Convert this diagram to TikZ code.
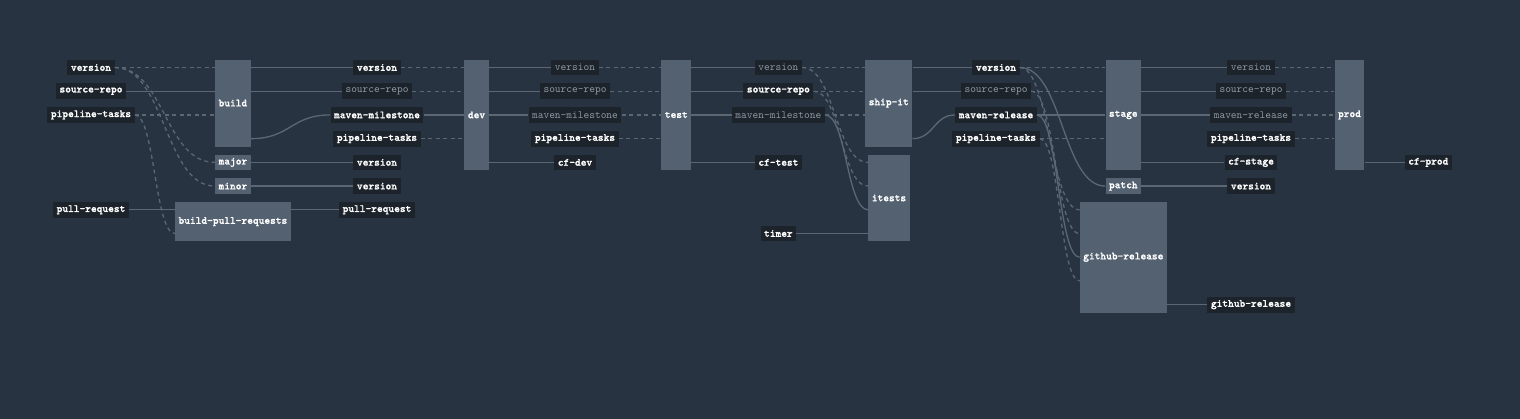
\documentclass[tikz,border=0pt]{standalone}
\usepackage{fontspec}
\usetikzlibrary{calc}

\definecolor{pagebg}{HTML}{273341}
\definecolor{jobfill}{HTML}{536171}
\definecolor{resfill}{HTML}{1C232B}
\definecolor{wirecol}{HTML}{5B6873}
\definecolor{dimtext}{HTML}{8F9AA5}

\newfontfamily\lblfam{lmmonolt10-bold.otf}[FakeBold=1.2]
\newcommand{\lblfont}{\lblfam\fontsize{10.9}{12}\selectfont}
\newcommand{\dimfont}{\ttfamily\fontsize{10.9}{12}\selectfont}

\tikzset{
  job/.style={fill=jobfill, text=white, font=\lblfont, inner xsep=3.5pt, inner ysep=0pt,
    minimum height={(#1-1)*23.72pt+15.7pt}},
  job/.default=1,
  res/.style={fill=resfill, text=white, font=\lblfont, inner xsep=3.5pt, inner ysep=0pt, minimum height=15.7pt},
  resdim/.style={res, text=dimtext, font=\dimfont},
  wire/.style={draw=wirecol, line width=1.3pt},
  passed/.style={dash pattern=on 4pt off 3.5pt}
}

% curve with level ends, bending at half way
\newcommand{\wire}[3][]{%
  \draw[wire,#1] let \p1=(#2), \p2=(#3) in
    (\p1) .. controls ({0.5*\x1+0.5*\x2},\y1) and ({0.5*\x1+0.5*\x2},\y2) .. (\p2);}

\begin{document}
\begin{tikzpicture}[x=1pt, y=-1pt]
  \fill[pagebg] (0,0) rectangle (1520,419);
  \useasboundingbox (0,0) rectangle (1520,419);

  \foreach \i in {1,...,11}
    \coordinate (row\i) at (0,{67.5+(\i-1)*23.72});

  % jobs
  \node[job=4] (build) at (232.9,103.08) {build};
  \node[job] (major) at (232.9,162.38) {major};
  \node[job] (minor) at (232.9,186.1) {minor};
  \node[job=2] (bpr) at (232.9,221.68) {build-pull-requests};
  \node[job=5] (dev) at (476.5,114.94) {dev};
  \node[job=5] (test) at (676.3,114.94) {test};
  \node[job=4] (shipit) at (888.8,103.08) {ship-it};
  \node[job=4] (itests) at (889,197.96) {itests};
  \node[job=5] (stage) at (1123.3,114.94) {stage};
  \node[job] (patch) at (1123.3,186.1) {patch};
  \node[job=5] (ghrel) at (1123.3,257.26) {github-release};
  \node[job=5] (prod) at (1349.5,114.94) {prod};

  % resources
  \node[res] (version0) at (91,67.5) {version};
  \node[res] (repo0) at (91,91.22) {source-repo};
  \node[res] (tasks0) at (91,114.94) {pipeline-tasks};
  \node[res] (pr0) at (91,209.82) {pull-request};

  \node[res] (version1) at (377,67.5) {version};
  \node[resdim] (repo1) at (377,91.22) {source-repo};
  \node[res] (milestone1) at (377,114.94) {maven-milestone};
  \node[res] (tasks1) at (377,138.66) {pipeline-tasks};
  \node[res] (majorver) at (377,162.38) {version};
  \node[res] (minorver) at (377,186.1) {version};
  \node[res] (pr1) at (377,209.82) {pull-request};

  \node[resdim] (version2) at (575,67.5) {version};
  \node[resdim] (repo2) at (575,91.22) {source-repo};
  \node[resdim] (milestone2) at (575,114.94) {maven-milestone};
  \node[res] (tasks2) at (575,138.66) {pipeline-tasks};
  \node[res] (cfdev) at (575,162.38) {cf-dev};

  \node[resdim] (version3) at (778.4,67.5) {version};
  \node[res] (repo3) at (778.4,91.22) {source-repo};
  \node[resdim] (milestone3) at (778.4,114.94) {maven-milestone};
  \node[res] (cftest) at (778.4,162.38) {cf-test};
  \node[res] (timer) at (778.4,233.54) {timer};

  \node[res] (version4) at (996,67.5) {version};
  \node[resdim] (repo4) at (996,91.22) {source-repo};
  \node[res] (release4) at (996,114.94) {maven-release};
  \node[res] (tasks4) at (996,138.66) {pipeline-tasks};

  \node[resdim] (version5) at (1251,67.5) {version};
  \node[resdim] (repo5) at (1251,91.22) {source-repo};
  \node[resdim] (release5) at (1251,114.94) {maven-release};
  \node[res] (tasks5) at (1251,138.66) {pipeline-tasks};
  \node[res] (cfstage) at (1251,162.38) {cf-stage};
  \node[res] (patchver) at (1251,186.1) {version};
  \node[res] (ghrel5) at (1251,304.7) {github-release};

  \node[res] (cfprod) at (1428.3,162.38) {cf-prod};

  % into build, major, minor, build-pull-requests
  \wire[passed]{version0.east}{build.west |- version0}
  \wire{repo0.east}{build.west |- repo0}
  \wire[passed]{tasks0.east}{build.west |- tasks0}
  \wire[passed]{version0.east}{major.west}
  \wire[passed]{version0.east}{minor.west}
  \wire{pr0.east}{bpr.west |- pr0}
  \wire[passed]{tasks0.east}{bpr.west |- row8}
  \wire{build.east |- version1}{version1.west}
  \wire{build.east |- repo1}{repo1.west}
  \wire{build.east |- row4}{milestone1.west}
  \wire{major.east}{majorver.west}
  \wire{minor.east}{minorver.west}
  \wire{bpr.east |- pr1}{pr1.west}

  % dev
  \wire[passed]{version1.east}{dev.west |- version1}
  \wire[passed]{repo1.east}{dev.west |- repo1}
  \wire{milestone1.east}{dev.west |- milestone1}
  \wire[passed]{tasks1.east}{dev.west |- tasks1}
  \wire{dev.east |- version2}{version2.west}
  \wire{dev.east |- repo2}{repo2.west}
  \wire{dev.east |- milestone2}{milestone2.west}
  \wire{dev.east |- cfdev}{cfdev.west}

  % test
  \wire[passed]{version2.east}{test.west |- version2}
  \wire[passed]{repo2.east}{test.west |- repo2}
  \wire[passed]{milestone2.east}{test.west |- milestone2}
  \wire[passed]{tasks2.east}{test.west |- tasks2}
  \wire{test.east |- version3}{version3.west}
  \wire{test.east |- repo3}{repo3.west}
  \wire{test.east |- milestone3}{milestone3.west}
  \wire{test.east |- cftest}{cftest.west}

  % ship-it, itests
  \wire[passed]{version3.east}{shipit.west |- version3}
  \wire[passed]{repo3.east}{shipit.west |- repo3}
  \wire[passed]{milestone3.east}{shipit.west |- milestone3}
  \wire[passed]{version3.east}{itests.west |- row5}
  \wire[passed]{repo3.east}{itests.west |- row6}
  \wire{milestone3.east}{itests.west |- row7}
  \wire{timer.east}{itests.west |- timer}
  \wire{shipit.east |- version4}{version4.west}
  \wire{shipit.east |- repo4}{repo4.west}
  \wire{shipit.east |- row4}{release4.west}

  % stage, patch, github-release
  \wire[passed]{version4.east}{stage.west |- version4}
  \wire[passed]{repo4.east}{stage.west |- repo4}
  \wire{release4.east}{stage.west |- release4}
  \wire[passed]{tasks4.east}{stage.west |- tasks4}
  \wire{version4.east}{patch.west}
  \wire[passed]{version4.east}{ghrel.west |- row7}
  \wire[passed]{repo4.east}{ghrel.west |- row8}
  \wire{release4.east}{ghrel.west |- row9}
  \wire[passed]{tasks4.east}{ghrel.west |- row10}
  \wire{stage.east |- version5}{version5.west}
  \wire{stage.east |- repo5}{repo5.west}
  \wire{stage.east |- release5}{release5.west}
  \wire{stage.east |- cfstage}{cfstage.west}
  \wire{patch.east}{patchver.west}
  \wire{ghrel.east |- ghrel5}{ghrel5.west}

  % prod
  \wire[passed]{version5.east}{prod.west |- version5}
  \wire[passed]{repo5.east}{prod.west |- repo5}
  \wire[passed]{release5.east}{prod.west |- release5}
  \wire[passed]{tasks5.east}{prod.west |- tasks5}
  \wire{prod.east |- cfprod}{cfprod.west}
\end{tikzpicture}
\end{document}
